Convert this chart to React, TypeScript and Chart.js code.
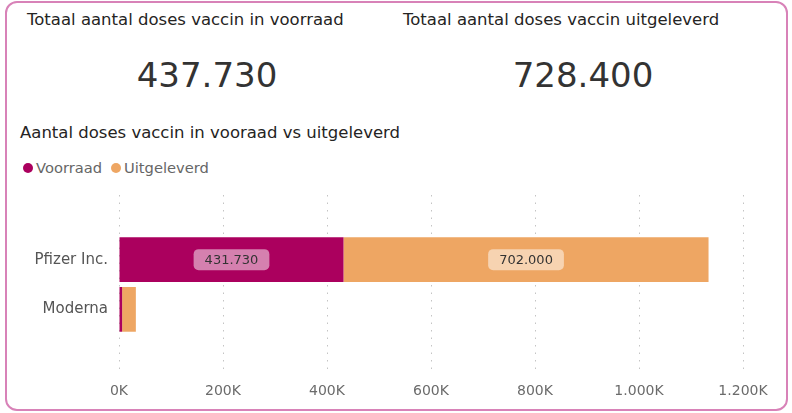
import React, { useEffect, useRef } from "react";
import { Chart, registerables } from "chart.js";

Chart.register(...registerables);

const categories = ["Pfizer Inc.", "Moderna"];
const voorraad = [431730, 6000];
const uitgeleverd = [702000, 26400];
const seriesNames = ["Voorraad", "Uitgeleverd"];
const seriesColors = ["#AB005E", "#EEA663"];
const xMax = 1200000;
const xStep = 200000;

const FONT = "'DejaVu Sans', Verdana, sans-serif";

function fmt(n: number): string {
  return String(Math.round(n)).replace(/\B(?=(\d{3})+(?!\d))/g, ".");
}

const totalVoorraad = voorraad.reduce((a, b) => a + b, 0);
const totalUitgeleverd = uitgeleverd.reduce((a, b) => a + b, 0);

const labelPlugin = {
  id: "barLabels",
  afterDatasetsDraw(chart: any) {
    const ctx = chart.ctx;
    ctx.save();
    ctx.font = `13px ${FONT}`;
    chart.data.datasets.forEach((ds: any, di: number) => {
      const meta = chart.getDatasetMeta(di);
      meta.data.forEach((bar: any, i: number) => {
        const raw = ds.data[i].x;
        const text = fmt(raw);
        const tw = ctx.measureText(text).width;
        const bw = tw + 22;
        const bh = 21;
        const left = Math.min(bar.x, bar.base);
        const right = Math.max(bar.x, bar.base);
        if (right - left < bw + 10) return;
        const cx = (left + right) / 2;
        const cy = bar.y;
        ctx.fillStyle = "rgba(255,255,255,0.5)";
        ctx.beginPath();
        ctx.roundRect(cx - bw / 2, cy - bh / 2, bw, bh, 5);
        ctx.fill();
        ctx.fillStyle = "#333333";
        ctx.textAlign = "center";
        ctx.textBaseline = "middle";
        ctx.fillText(text, cx, cy + 1);
      });
    });
    ctx.restore();
  },
};

function BarChart() {
  const ref = useRef<HTMLCanvasElement>(null);
  useEffect(() => {
    if (!ref.current) return;
    Chart.defaults.font.family = FONT;
    const chart = new Chart(ref.current, {
      type: "bar",
      data: {
        datasets: [
          {
            label: seriesNames[0],
            data: voorraad.map((v, i) => ({ x: v, y: i + 1 })),
            backgroundColor: seriesColors[0],
            stack: "s",
            barPercentage: 0.9,
            categoryPercentage: 1,
          },
          {
            label: seriesNames[1],
            data: uitgeleverd.map((v, i) => ({ x: v, y: i + 1 })),
            backgroundColor: seriesColors[1],
            stack: "s",
            barPercentage: 0.9,
            categoryPercentage: 1,
          },
        ],
      } as any,
      options: {
        indexAxis: "y",
        animation: false,
        responsive: false,
        maintainAspectRatio: false,
        layout: { padding: { top: 10, right: 37, left: 0, bottom: 0 } },
        plugins: { legend: { display: false }, tooltip: { enabled: false } },
        scales: {
          x: {
            type: "linear",
            stacked: true,
            min: 0,
            max: xMax,
            border: { display: false, dash: [1.5, 6] },
            grid: {
              color: "#c4c4c4",
              lineWidth: 1,
              drawTicks: false,
            },
            ticks: {
              stepSize: xStep,
              padding: 8,
              color: "#6b6b6b",
              font: { size: 14 },
              callback: (v: any) => fmt(Number(v) / 1000) + "K",
            },
            afterFit: (s: any) => {
              s.height = 30;
            },
          },
          y: {
            type: "linear",
            reverse: true,
            offset: false,
            bounds: "data",
            min: -0.3,
            max: 3.32,
            border: { display: false },
            grid: { display: false, drawTicks: false, offset: false },
            ticks: {
              padding: 11,
              color: "#555555",
              font: { size: 15 },
              callback: (v: any) => categories[Number(v) - 1] ?? "",
            },
            afterBuildTicks: (s: any) => {
              s.ticks = categories.map((_, i) => ({ value: i + 1 }));
            },
            afterFit: (s: any) => {
              s.width = 109;
              s.paddingTop = 0;
              s.paddingBottom = 0;
            },
          },
        },
      } as any,
      plugins: [labelPlugin],
    });
    return () => chart.destroy();
  }, []);
  return (
    <canvas
      ref={ref}
      width={770}
      height={220}
      style={{ position: "absolute", left: 10, top: 185, width: 770, height: 220 }}
    />
  );
}

export default function App() {
  const textBase: React.CSSProperties = {
    position: "absolute",
    fontFamily: FONT,
    whiteSpace: "nowrap",
    color: "#252423",
  };
  return (
    <div
      style={{
        position: "fixed",
        left: 0,
        top: 0,
        width: 792,
        height: 413,
        background: "#ffffff",
        overflow: "hidden",
      }}
    >
      <div
        style={{
          position: "absolute",
          left: 5,
          top: 1,
          width: 783,
          height: 410,
          border: "2px solid #D882B8",
          borderRadius: 12,
          boxSizing: "border-box",
        }}
      />
      <div style={{ ...textBase, left: 27, top: 10, fontSize: 16.5, lineHeight: "20px" }}>
        Totaal aantal doses vaccin in voorraad
      </div>
      <div style={{ ...textBase, left: 403, top: 10, fontSize: 16.5, lineHeight: "20px" }}>
        Totaal aantal doses vaccin uitgeleverd
      </div>
      <div
        style={{
          ...textBase,
          left: 57,
          width: 300,
          textAlign: "center",
          top: 55,
          fontSize: 34,
          lineHeight: "40px",
          color: "#333333",
        }}
      >
        {fmt(totalVoorraad)}
      </div>
      <div
        style={{
          ...textBase,
          left: 433,
          width: 300,
          textAlign: "center",
          top: 55,
          fontSize: 34,
          lineHeight: "40px",
          color: "#333333",
        }}
      >
        {fmt(totalUitgeleverd)}
      </div>
      <div style={{ ...textBase, left: 20, top: 123, fontSize: 16.5, lineHeight: "20px" }}>
        Aantal doses vaccin in vooraad vs uitgeleverd
      </div>
      {seriesNames.map((name, i) => {
        const cx = i === 0 ? 27.5 : 115.5;
        return (
          <React.Fragment key={name}>
            <div
              style={{
                position: "absolute",
                left: cx - 5,
                top: 163,
                width: 10,
                height: 10,
                borderRadius: "50%",
                background: seriesColors[i],
              }}
            />
            <div
              style={{
                ...textBase,
                left: cx + 8.5,
                top: 158,
                fontSize: 14.7,
                lineHeight: "20px",
                color: "#666666",
              }}
            >
              {name}
            </div>
          </React.Fragment>
        );
      })}
      <BarChart />
    </div>
  );
}
